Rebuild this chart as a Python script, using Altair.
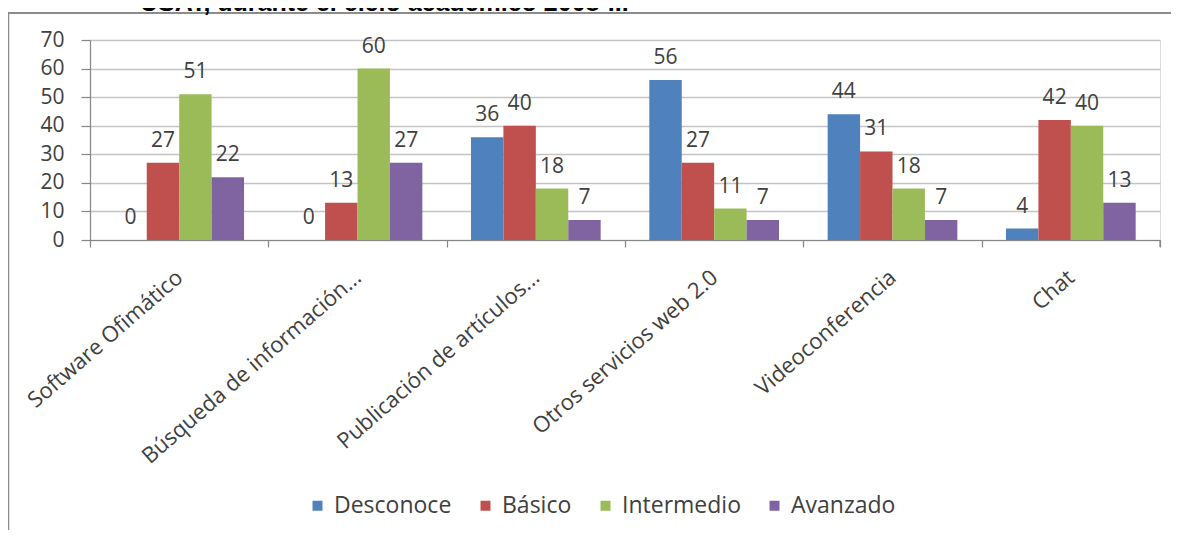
import altair as alt
import pandas as pd

categories = ["Software Ofimático", "Búsqueda de información...", "Publicación de artículos...",
              "Otros servicios web 2.0", "Videoconferencia", "Chat"]
series = ["Desconoce", "Básico", "Intermedio", "Avanzado"]
desconoce = [0, 0, 36, 56, 44, 4]
basico = [27, 13, 40, 27, 31, 42]
intermedio = [51, 60, 18, 11, 18, 40]
avanzado = [22, 27, 7, 7, 7, 13]
colors = ["#4F81BD", "#C0504D", "#9BBB59", "#8064A2"]
y_ticks = [0, 10, 20, 30, 40, 50, 60, 70]
title_text = "USAT, durante el ciclo académico 2008-II."

rows = []
for s, vals in zip(series, [desconoce, basico, intermedio, avanzado]):
    for c, v in zip(categories, vals):
        rows.append({"cat": c, "serie": s, "valor": v})
df = pd.DataFrame(rows)

FONT = "Open Sans"
TXT = "#404040"
W, H = 1070, 200

x_enc = alt.X("cat:N", sort=categories, title=None,
              scale=alt.Scale(paddingInner=0, paddingOuter=0),
              axis=alt.Axis(tickBand="extent", labelAngle=319, labelAlign="right",
                            labelBaseline="middle", labelPadding=27, tickSize=7,
                            labelFont=FONT, labelFontSize=22, labelColor=TXT,
                            domainColor="#868686", tickColor="#868686",
                            domainWidth=1.2, tickWidth=1.2, grid=False,
                            labelLimit=400, labelOverlap=False))
xo_enc = alt.XOffset("serie:N", sort=series,
                     scale=alt.Scale(paddingOuter=0.75, paddingInner=0))
y_enc = alt.Y("valor:Q", title=None,
              scale=alt.Scale(domain=[0, 70], nice=False),
              axis=alt.Axis(values=y_ticks, tickSize=9, labelPadding=17,
                            labelFont=FONT, labelFontSize=21, labelColor=TXT,
                            labelOverlap=False,
                            domainColor="#868686", tickColor="#868686",
                            domainWidth=1.2, tickWidth=1.2,
                            gridColor="#c4c4c4", gridWidth=1.3))

base = alt.Chart(df)

bars = base.mark_bar().encode(
    x=x_enc, xOffset=xo_enc, y=y_enc,
    color=alt.Color("serie:N", sort=series, title=None,
                    scale=alt.Scale(domain=series, range=colors),
                    legend=alt.Legend(orient="none", legendX=216, legendY=454,
                                      direction="horizontal", symbolType="square",
                                      symbolSize=100, symbolStrokeWidth=0,
                                      labelFont=FONT, labelFontSize=23, labelColor=TXT,
                                      columnPadding=22, labelOffset=5)),
)

labels = base.mark_text(font=FONT, fontSize=21, color=TXT, baseline="middle", dy=-22).encode(
    x=x_enc, xOffset=xo_enc, y=y_enc,
    text=alt.Text("valor:Q"),
)

end_tick = alt.Chart(pd.DataFrame({"k": [0]})).mark_rule(color="#868686", strokeWidth=1.2).encode(
    x=alt.value(W), y=alt.value(H), y2=alt.value(H + 7))

border_top = alt.Chart(pd.DataFrame({"k": [0]})).mark_rule(color="#8c8c8c", strokeWidth=2).encode(
    x=alt.value(-90), x2=alt.value(W + 30), y=alt.value(-27))
border_left = alt.Chart(pd.DataFrame({"k": [0]})).mark_rule(color="#8c8c8c", strokeWidth=2.5).encode(
    x=alt.value(-82), y=alt.value(-27), y2=alt.value(H + 300))

title = alt.Chart(pd.DataFrame({"t": [title_text]})).mark_text(
    font="Liberation Sans", fontSize=25, fontWeight="bold", color="#000000",
    align="left", baseline="alphabetic").encode(
    x=alt.value(50), y=alt.value(-29), text="t:N")

chart = alt.layer(bars, labels, end_tick, border_top, border_left, title).properties(
    width=W, height=H,
    autosize=alt.AutoSizeParams(type="none"),
    padding={"left": 82, "top": 32, "right": 11, "bottom": 290},
).configure_view(stroke=None).configure(background="#ffffff")

chart.save("out.html", embed_options={"renderer": "svg", "actions": False})
